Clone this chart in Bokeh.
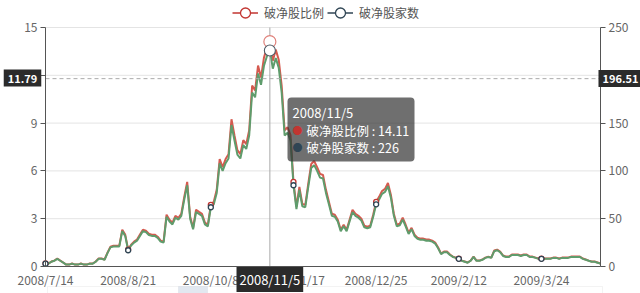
from bokeh.plotting import figure
from bokeh.models import (Range1d, LinearAxis, FixedTicker, Label,
                          BoxAnnotation, Legend, LegendItem, ColumnDataSource)
from bokeh.embed import file_html
from bokeh.resources import INLINE

# ---------------- data ----------------
series_names = ["破净股比例", "破净股家数"]
x_tick_labels = ["2008/7/14", "2008/8/21", "2008/10/8", "2008/11/17",
                 "2008/12/25", "2009/2/12", "2009/3/24"]
tick_step = 28
left_ticks = [0, 3, 6, 9, 12, 15]
right_ticks = [0, 50, 100, 150, 200, 250]

ratio = [0.19, 0.19, 0.31, 0.37, 0.50, 0.37, 0.25, 0.12, 0.12, 0.19,
         0.12, 0.12, 0.19, 0.12, 0.12, 0.19, 0.19, 0.31, 0.50, 0.50,
         0.44, 0.87, 1.25, 1.31, 1.31, 1.31, 2.31, 2.00, 1.06, 1.37,
         1.56, 1.69, 2.00, 2.31, 2.25, 2.06, 2.00, 2.00, 1.87, 1.62,
         1.56, 3.25, 2.93, 2.75, 3.18, 3.06, 3.31, 4.37, 5.31, 3.12,
         2.43, 3.56, 3.43, 3.31, 2.75, 2.62, 3.87, 4.06, 4.81, 6.74,
         6.24, 6.74, 7.05, 9.24, 8.24, 7.30, 7.05, 7.93, 7.68, 8.55,
         11.36, 11.05, 12.61, 11.86, 13.11, 13.73, 14.11, 12.92, 13.61, 12.98,
         11.36, 8.55, 8.74, 8.24, 5.31, 3.75, 4.99, 3.93, 3.87, 5.18,
         6.43, 6.62, 6.24, 5.81, 5.74, 4.81, 4.06, 3.31, 3.25, 2.93,
         2.31, 2.62, 2.31, 2.93, 3.56, 3.31, 3.18, 3.00, 2.56, 2.50,
         2.56, 3.25, 4.06, 4.37, 4.74, 4.87, 5.24, 4.49, 3.31, 2.62,
         2.68, 3.06, 2.62, 2.12, 2.43, 2.00, 1.81, 1.75, 1.75, 1.69,
         1.69, 1.62, 1.50, 1.19, 0.81, 0.94, 0.94, 0.75, 0.62, 0.56,
         0.50, 0.37, 0.31, 0.25, 0.37, 0.62, 0.37, 0.37, 0.44, 0.56,
         0.62, 0.56, 1.00, 1.06, 0.94, 0.69, 0.62, 0.62, 0.75, 0.75,
         0.75, 0.69, 0.75, 0.75, 0.62, 0.62, 0.56, 0.50, 0.50, 0.50,
         0.50, 0.50, 0.56, 0.56, 0.50, 0.56, 0.56, 0.56, 0.62, 0.62,
         0.62, 0.62, 0.50, 0.44, 0.37, 0.31, 0.31, 0.25, 0.19]

count = [3, 3, 5, 6, 8, 6, 4, 2, 2, 3,
         2, 2, 3, 2, 2, 3, 3, 5, 8, 8,
         7, 14, 20, 21, 21, 21, 37, 32, 17, 22,
         25, 27, 32, 37, 36, 33, 32, 32, 30, 26,
         25, 52, 47, 44, 51, 49, 53, 70, 85, 50,
         39, 57, 55, 53, 44, 42, 62, 65, 77, 108,
         100, 108, 113, 148, 132, 117, 113, 127, 123, 137,
         182, 177, 202, 190, 210, 220, 226, 207, 218, 208,
         182, 137, 140, 132, 85, 60, 80, 63, 62, 83,
         103, 106, 100, 93, 92, 77, 65, 53, 52, 47,
         37, 42, 37, 47, 57, 53, 51, 48, 41, 40,
         41, 52, 65, 70, 76, 78, 84, 72, 53, 42,
         43, 49, 42, 34, 39, 32, 29, 28, 28, 27,
         27, 26, 24, 19, 13, 15, 15, 12, 10, 9,
         8, 6, 5, 4, 6, 10, 6, 6, 7, 9,
         10, 9, 16, 17, 15, 11, 10, 10, 12, 12,
         12, 11, 12, 12, 10, 10, 9, 8, 8, 8,
         8, 8, 9, 9, 8, 9, 9, 9, 10, 10,
         10, 10, 8, 7, 6, 5, 5, 4, 3]

hover_index = 76
hover_date = "2008/11/5"
pointer_value = 11.79
pointer_left_text = "11.79"
pointer_right_text = "196.51"

# ---------------- layout ----------------
W, H = 640, 293
L, R, T, B = 45, 600, 27, 266          # plot area inside the canvas (px)
FONT = "Noto Sans CJK SC"
RED = "#c23531"
DARK = "#2f4554"
NAN = float("nan")

n = len(ratio)
xs = list(range(n))
YMAX = left_ticks[-1]
RMAX = right_ticks[-1]


def dx(px):
    return (px - L) / (R - L) * (n - 1)


def dy(py):
    return (B - py) / (B - T) * YMAX


# the frame covers the whole canvas; axes are pinned with fixed_location
p = figure(width=W, height=H, output_backend="svg", toolbar_location=None,
           x_range=Range1d(dx(0), dx(W)), y_range=Range1d(dy(H), dy(0)),
           min_border_left=0, min_border_right=0,
           min_border_top=0, min_border_bottom=0)
p.extra_y_ranges = {"right": Range1d(dy(H) * RMAX / YMAX, dy(0) * RMAX / YMAX)}
p.outline_line_color = None
p.background_fill_color = "white"
p.border_fill_color = "white"
p.xgrid.visible = False
p.ygrid.visible = False

xax = p.xaxis[0]
xax.ticker = FixedTicker(ticks=[i * tick_step for i in range(len(x_tick_labels))])
xax.major_label_overrides = {i * tick_step: lbl for i, lbl in enumerate(x_tick_labels)}
xax.fixed_location = 0
xax.bounds = (0, n - 1)

lax = p.yaxis[0]
lax.ticker = FixedTicker(ticks=left_ticks)
lax.fixed_location = 0
lax.bounds = (0, YMAX)

rax = LinearAxis(y_range_name="right", ticker=FixedTicker(ticks=right_ticks),
                 fixed_location=n - 1, bounds=(0, RMAX))
p.add_layout(rax, "right")

for ax in [xax, lax, rax]:
    ax.axis_line_color = "#555555"
    ax.axis_line_width = 1
    ax.major_tick_line_color = "#555555"
    ax.major_tick_out = 5
    ax.major_tick_in = 0
    ax.minor_tick_out = 0
    ax.minor_tick_in = 0
    ax.major_label_text_color = "#666666"
    ax.major_label_text_font_size = "12px"
    ax.major_label_text_font = FONT
    ax.major_label_standoff = 3
xax.major_tick_out = 0
xax.major_label_standoff = 4

# horizontal grid lines at the left-axis ticks
p.segment(x0=0, x1=n - 1, y0=left_ticks, y1=left_ticks,
          line_color="#e4e4e4", line_width=1, level="underlay")

# series
src = ColumnDataSource(dict(x=xs, ratio=ratio, count=count))
red_line = p.line("x", "ratio", source=src, line_color="#d55a4f", line_width=2)
green_line = p.line("x", "count", source=src, y_range_name="right",
                    line_color="#5f9c6c", line_width=2)

mk = ColumnDataSource(dict(x=xs[::tick_step], ratio=ratio[::tick_step],
                           count=count[::tick_step]))
p.scatter("x", "ratio", source=mk, size=5, line_color=RED, fill_color="white",
          line_width=1.3)
p.scatter("x", "count", source=mk, y_range_name="right", size=5,
          line_color=DARK, fill_color="white", line_width=1.3)

# axis pointer (cross)
p.segment(x0=hover_index, x1=hover_index, y0=0, y1=YMAX,
          line_color="#aaaaaa", line_width=1)
p.segment(x0=0, x1=n - 1, y0=pointer_value, y1=pointer_value,
          line_color="#aaaaaa", line_width=1, line_dash="4 3")

hv = ColumnDataSource(dict(x=[hover_index], ratio=[ratio[hover_index]],
                           count=[count[hover_index]]))
p.scatter("x", "ratio", source=hv, size=12, line_color="#e0827b",
          fill_color="white", line_width=1.2)
p.scatter("x", "count", source=hv, y_range_name="right", size=11,
          line_color="#4d5b66", fill_color="white", line_width=1.1)

# legend (icon-only proxies holding no visible point)
leg_red_line = p.line(x=[NAN], y=[NAN], line_color=RED, line_width=1.5)
leg_red_mk = p.scatter(x=[NAN], y=[NAN], line_color=RED, fill_color="white",
                       line_width=1.3)
leg_dark_line = p.line(x=[NAN], y=[NAN], line_color=DARK, line_width=1.5)
leg_dark_mk = p.scatter(x=[NAN], y=[NAN], line_color=DARK, fill_color="white",
                        line_width=1.3)
legend = Legend(items=[LegendItem(label=series_names[0], renderers=[leg_red_line, leg_red_mk]),
                       LegendItem(label=series_names[1], renderers=[leg_dark_line, leg_dark_mk])],
                orientation="horizontal", location=(232, H - 25),
                glyph_width=26, glyph_height=25, label_standoff=6, spacing=3,
                padding=0, margin=0, border_line_alpha=0, background_fill_alpha=0,
                label_text_font_size="12px", label_text_color="#555555",
                label_text_font=FONT)
p.add_layout(legend)

# tooltip
p.add_layout(BoxAnnotation(left=dx(287), right=dx(414), top=dy(97), bottom=dy(161),
                           fill_color="#323232", fill_alpha=0.7, line_alpha=0,
                           border_radius=4, level="overlay"))
p.add_layout(Label(x=dx(292), y=dy(112), text=hover_date, text_color="white",
                   text_font_size="13px", text_font=FONT,
                   text_baseline="middle", level="overlay"))
tip_rows = [(f"{series_names[0]} : {ratio[hover_index]:.2f}", RED, 130),
            (f"{series_names[1]} : {count[hover_index]}", DARK, 147)]
for txt, col, py in tip_rows:
    p.add_layout(Label(x=dx(292), y=dy(py), text="●", text_color=col,
                       text_font_size="10px", text_font=FONT,
                       text_baseline="middle", level="overlay"))
    p.add_layout(Label(x=dx(306), y=dy(py), text=txt, text_color="white",
                       text_font_size="12.5px", text_font=FONT,
                       text_baseline="middle", level="overlay"))

# axis pointer labels
for txt, px, py in [(pointer_left_text, 22, 77.5), (pointer_right_text, 620, 78)]:
    p.add_layout(Label(x=dx(px), y=dy(py), text=txt, text_align="center",
                       text_baseline="middle", text_color="white",
                       text_font_size="11px", text_font=FONT, text_font_style="bold",
                       background_fill_color="#2b2b2b", padding=4,
                       level="overlay"))
p.add_layout(Label(x=hover_index, y=dy(279), text=hover_date, text_align="center",
                   text_baseline="middle", text_color="white",
                   text_font_size="13px", text_font=FONT,
                   background_fill_color="#2b2b2b", padding=3, level="overlay"))

# data zoom strip (partially visible at the bottom edge)
p.add_layout(BoxAnnotation(left=dx(47), right=dx(602), top=dy(286), bottom=dy(310),
                           fill_alpha=0, line_color="#d8d8d8", line_width=1))
p.add_layout(BoxAnnotation(left=dx(178), right=dx(207), top=dy(286), bottom=dy(310),
                           fill_color="#dfe5ee", fill_alpha=0.9, line_color="#c9d1dc",
                           line_width=1))

open("out.html", "w").write(file_html(p, INLINE))
